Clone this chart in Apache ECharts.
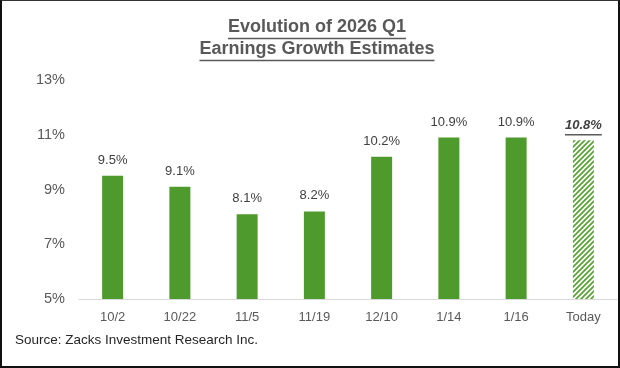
<!DOCTYPE html>
<html>
<head>
<meta charset="utf-8">
<script src="https://cdn.jsdelivr.net/npm/echarts@6/dist/echarts.min.js"></script>
<style>
html,body{margin:0;padding:0;background:#fff;}
#wrap{position:relative;width:620px;height:368px;}
#chart{position:absolute;left:0;top:0;width:620px;height:368px;}
#frame{position:absolute;left:0;top:0;width:620px;height:368px;box-sizing:border-box;border:2px solid #111;border-top:1px solid #333;pointer-events:none;}
</style>
</head>
<body>
<div id="wrap"><div id="chart"></div><div id="frame"></div></div>
<script>
const categories = ['10/2','10/22','11/5','11/19','12/10','1/14','1/16','Today'];
const values = [9.5, 9.1, 8.1, 8.2, 10.2, 10.9, 10.9, 10.8];
const yTicks = { min: 5, max: 13, interval: 2 };
const titleLines = ['Evolution of 2026 Q1', 'Earnings Growth Estimates'];
const sourceText = 'Source: Zacks Investment Research Inc.';

const GREEN = '#4f9a2c';
const FONT = 'Liberation Sans, Arial, sans-serif';

function measure(text, font) {
  const c = document.createElement('canvas').getContext('2d');
  c.font = font;
  return c.measureText(text).width;
}

// hatch pattern
const pat = document.createElement('canvas');
pat.width = 5; pat.height = 5;
const pc = pat.getContext('2d');
pc.fillStyle = '#fff'; pc.fillRect(0,0,5,5);
pc.strokeStyle = '#5aa336'; pc.lineWidth = 1.8;
pc.beginPath();
pc.moveTo(-1,6); pc.lineTo(6,-1);
pc.moveTo(-3,3); pc.lineTo(3,-3);
pc.moveTo(2,8); pc.lineTo(8,2);
pc.stroke();

const lastIdx = values.length - 1;
const lastLabel = values[lastIdx].toFixed(1) + '%';
const lastW = measure(lastLabel, 'italic bold 13px ' + FONT);
const TFS = 18;
const t1W = measure(titleLines[0], 'bold ' + TFS + 'px ' + FONT);
const t2W = measure(titleLines[1], 'bold ' + TFS + 'px ' + FONT);

const data = values.map((v, i) => {
  if (i === lastIdx) {
    return {
      value: v,
      itemStyle: { color: { image: pat, repeat: 'repeat' } },
      label: {
        formatter: '{t|' + lastLabel + '}\n{u|}',
        distance: 4,
        rich: {
          t: { fontStyle: 'italic', fontWeight: 'bold', fontSize: 13, color: '#404040', fontFamily: FONT, align: 'center', lineHeight: 15 },
          u: { width: lastW, height: 1.5, backgroundColor: '#595959', align: 'center', lineHeight: 3 }
        }
      }
    };
  }
  return v;
});

const chart = echarts.init(document.getElementById('chart'), null, { renderer: 'canvas' });
chart.setOption({
  animation: false,
  backgroundColor: '#fff',
  title: {
    left: 312, textAlign: 'center', top: 13,
    text: '{a|' + titleLines[0] + '}\n{u1|}\n{a|' + titleLines[1] + '}\n{u2|}',
    textStyle: {
      rich: {
        a: { fontFamily: FONT, fontSize: TFS, fontWeight: 'bold', color: '#595959', lineHeight: 19, align: 'center' },
        u1: { width: t1W, height: 1.5, backgroundColor: '#595959', lineHeight: 3, align: 'center' },
        u2: { width: t2W, height: 1.5, backgroundColor: '#595959', lineHeight: 3, align: 'center' }
      }
    }
  },
  graphic: [{
    type: 'text', left: 15, top: 333,
    style: { text: sourceText, font: '13.5px ' + FONT, fill: '#262626' }
  }],
  grid: { left: 79, width: 538, top: 80, bottom: 69 },
  xAxis: {
    type: 'category', data: categories,
    axisLine: { lineStyle: { color: '#d9d9d9', width: 1 } },
    axisTick: { show: false },
    axisLabel: { color: '#595959', fontSize: 13, fontFamily: FONT, margin: 12 }
  },
  yAxis: {
    type: 'value', min: yTicks.min, max: yTicks.max, interval: yTicks.interval,
    axisLine: { show: false }, axisTick: { show: false }, splitLine: { show: false },
    axisLabel: { color: '#595959', fontSize: 14.5, fontFamily: FONT, margin: 14, formatter: '{value}%' }
  },
  series: [{
    type: 'bar', data: data, barWidth: 21,
    itemStyle: { color: GREEN },
    label: {
      show: true, position: 'top', distance: 9,
      color: '#404040', fontSize: 13, fontFamily: FONT,
      formatter: p => p.value.toFixed(1) + '%'
    }
  }]
});
</script>
</body>
</html>
